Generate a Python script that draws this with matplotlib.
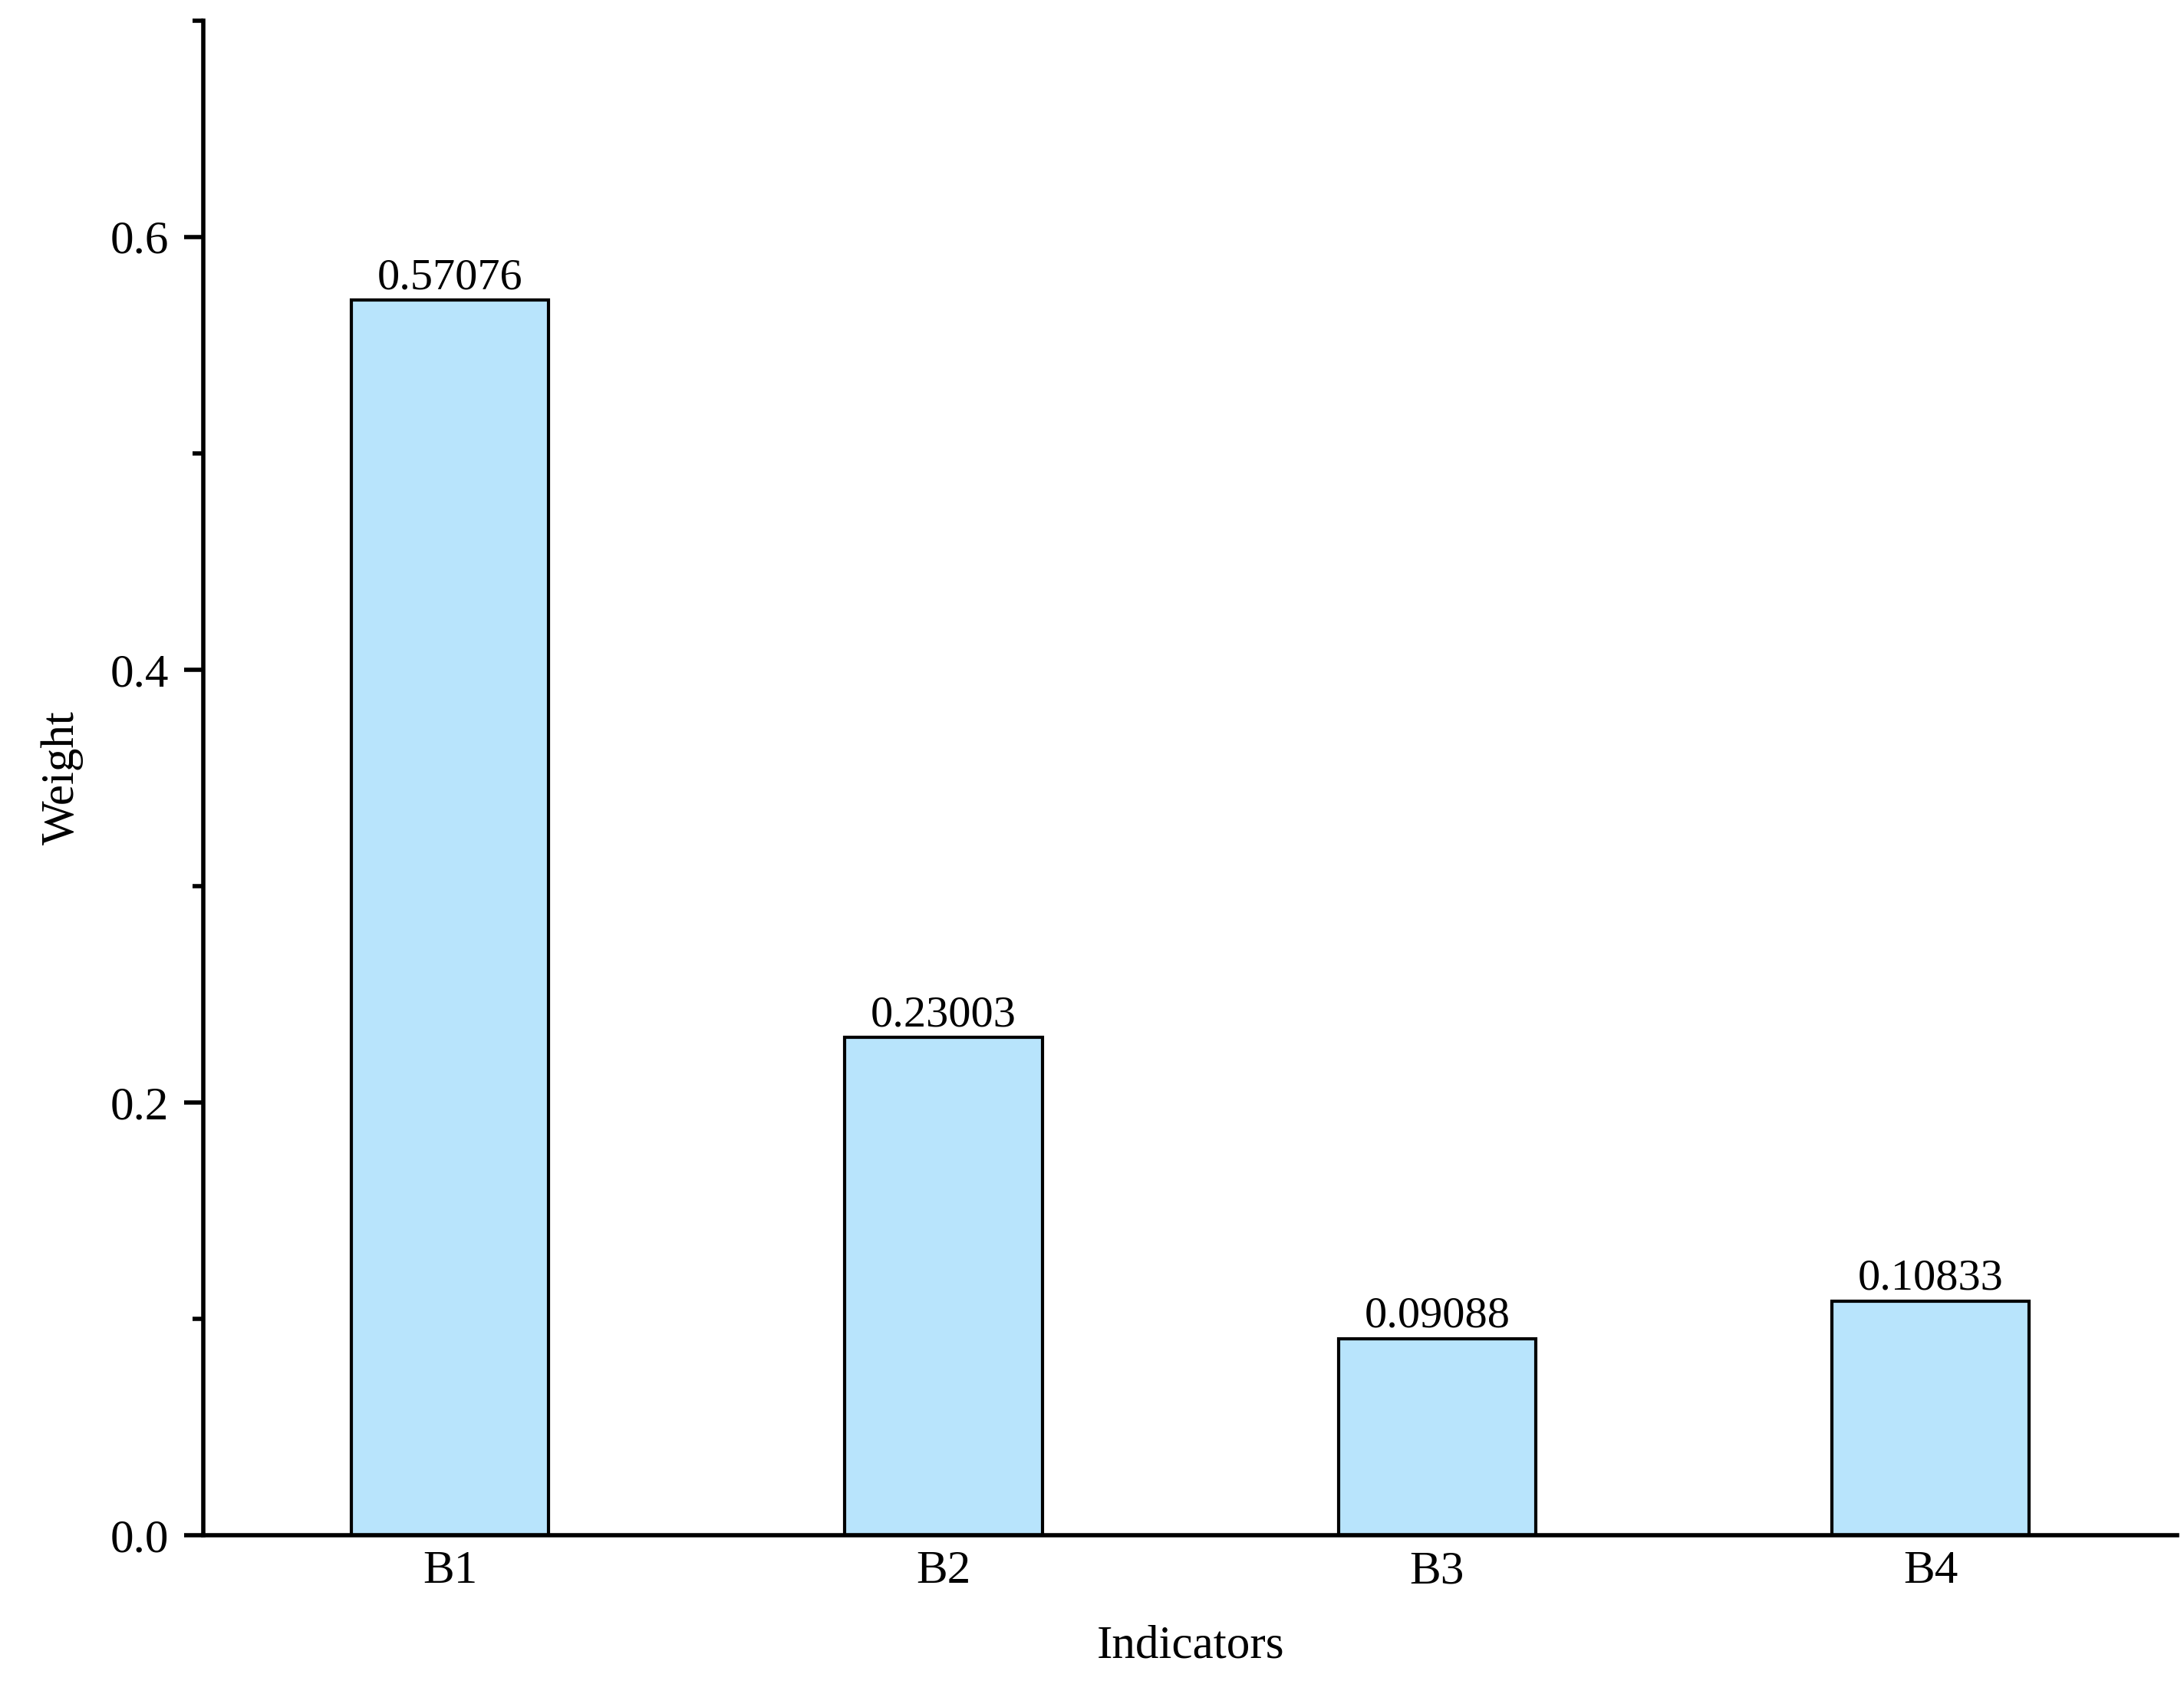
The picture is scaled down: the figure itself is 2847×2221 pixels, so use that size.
import matplotlib
matplotlib.use("Agg")
import matplotlib.pyplot as plt
from matplotlib.ticker import MultipleLocator

categories = ["B1", "B2", "B3", "B4"]
weights = [0.57076, 0.23003, 0.09088, 0.10833]
labels = ["0.57076", "0.23003", "0.09088", "0.10833"]

plt.rcParams['font.family'] = ['Liberation Serif', 'DejaVu Serif']
fig = plt.figure(figsize=(28.47, 22.21), dpi=100)
ax = fig.add_axes([0.093, 0.099, 0.904, 0.889])
x = list(range(len(categories)))
bars = ax.bar(x, weights, width=0.4, color='#B8E4FC', edgecolor='black', linewidth=3)
for xi, w, lab in zip(x, weights, labels):
    ax.text(xi, w + 0.001, lab, ha='center', va='bottom', fontsize=42)
ax.set_xlim(-0.5, 3.5)
ax.set_ylim(0, 0.7)
ax.set_xticks(x)
ax.set_xticklabels(categories)
ax.yaxis.set_major_locator(MultipleLocator(0.2))
ax.yaxis.set_minor_locator(MultipleLocator(0.1))
ax.yaxis.set_major_formatter(matplotlib.ticker.FormatStrFormatter('%.1f'))
for s in ['top', 'right']:
    ax.spines[s].set_visible(False)
for s in ['left', 'bottom']:
    ax.spines[s].set_linewidth(4)
ax.tick_params(axis='both', which='major', labelsize=44, width=4, length=18, direction='out', pad=14)
ax.tick_params(axis='y', which='minor', width=4, length=10)
ax.tick_params(axis='x', length=0)
ax.set_xlabel('Indicators', fontsize=44, labelpad=30)
ax.set_ylabel('Weight', fontsize=44, labelpad=25)
fig.savefig('out.png', dpi=100)
